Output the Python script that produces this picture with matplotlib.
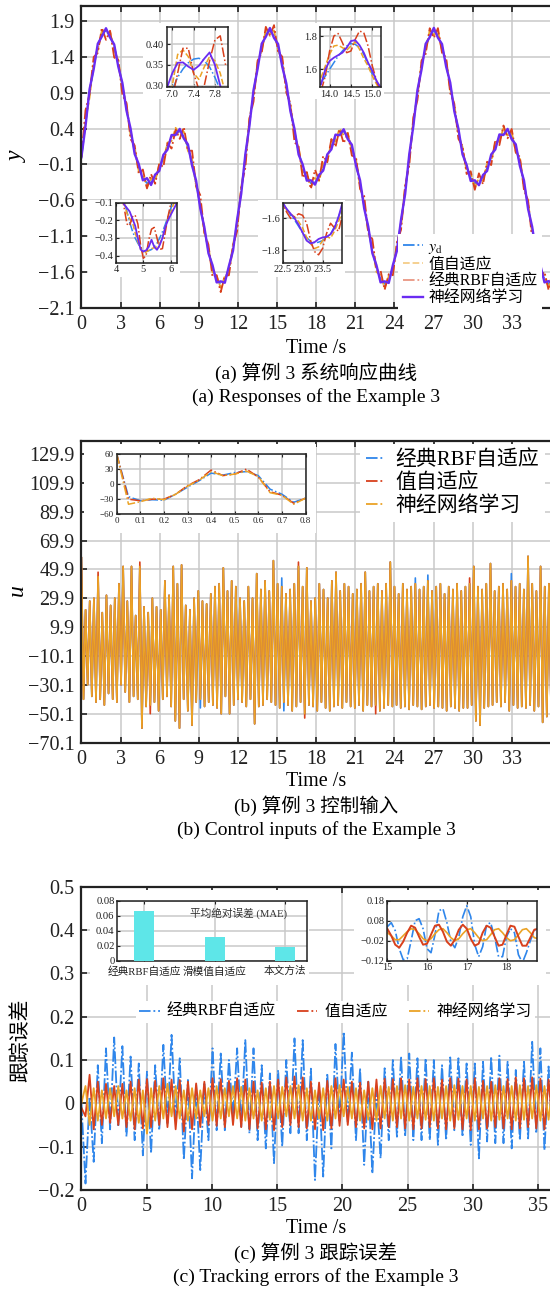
import numpy as np
import matplotlib.pyplot as plt
from matplotlib.patches import Rectangle
from matplotlib.lines import Line2D
from matplotlib.ticker import FuncFormatter

plt.rcParams['font.family'] = ['Liberation Serif', 'Noto Sans CJK SC']
plt.rcParams['mathtext.fontset'] = 'stix'
plt.rcParams['axes.unicode_minus'] = True

W, H = 550, 1290
BLUE = '#2f86eb'
RED = '#d8401c'
ORANGE = '#eba326'
PURPLE = '#6a2cf2'
TEAL = '#5ee6e8'
GRID = '#c9c9c9'
INK = '#222222'

# ---------------- data ----------------
# response / error records, one sample every pi/10 s
step_e = np.pi / 10
yd = [0.00, 0.47, 0.90, 1.26, 1.54, 1.71, 1.76, 1.70, 1.54, 1.30, 1.00, 0.68, 0.36, 0.08, -0.14, -0.29, -0.36, -0.35, -0.28, -0.15,
      0.00, 0.15, 0.28, 0.35, 0.36, 0.29, 0.14, -0.08, -0.36, -0.68, -1.00, -1.30, -1.54, -1.70, -1.76, -1.71, -1.54, -1.26, -0.90, -0.47,
      0.00, 0.47, 0.90, 1.26, 1.54, 1.71, 1.76, 1.70, 1.54, 1.30, 1.00, 0.68, 0.36, 0.08, -0.14, -0.29, -0.36, -0.35, -0.28, -0.15,
      0.00, 0.15, 0.28, 0.35, 0.36, 0.29, 0.14, -0.08, -0.36, -0.68, -1.00, -1.30, -1.54, -1.70, -1.76, -1.71, -1.54, -1.26, -0.90, -0.47,
      0.00, 0.47, 0.90, 1.26, 1.54, 1.71, 1.76, 1.70, 1.54, 1.30, 1.00, 0.68, 0.36, 0.08, -0.14, -0.29, -0.36, -0.35, -0.28, -0.15,
      0.00, 0.15, 0.28, 0.35, 0.36, 0.29, 0.14, -0.08, -0.36, -0.68, -1.00, -1.30, -1.54, -1.70, -1.76, -1.71]

# tracking errors (classic RBF / value adaptive / NN learning)
e_rbf = [0.0, -0.185, 0.015, -0.135, 0.088, -0.092, 0.127, -0.06, 0.152, -0.054, 0.132, -0.077, 0.108, -0.085, 0.092, -0.12,
         0.073, -0.115, 0.088, -0.062, 0.135, -0.046, 0.158, -0.035, 0.104, -0.13, 0.054, -0.173, 0.042, -0.154, 0.045, -0.085,
         0.127, -0.062, 0.115, -0.062, 0.1, -0.031, 0.127, -0.054, 0.146, -0.069, 0.127, -0.085, 0.088, -0.104, 0.069, -0.138,
         0.077, -0.1, 0.1, -0.069, 0.15, -0.069, 0.146, -0.085, 0.08, -0.177, 0.04, -0.169, 0.069, -0.104, 0.137, -0.04,
         0.165, -0.046, 0.117, -0.085, 0.081, -0.142, 0.05, -0.162, 0.03, -0.127, 0.081, -0.085, 0.1, -0.077, 0.108, -0.077,
         0.115, -0.085, 0.104, -0.085, 0.104, -0.085, 0.1, -0.096, 0.088, -0.085, 0.106, -0.062, 0.104, -0.077, 0.092, -0.096,
         0.092, -0.127, 0.096, -0.088, 0.108, -0.092, 0.11, -0.092, 0.096, -0.104, 0.077, -0.085, 0.096, -0.081, 0.142, -0.069,
         0.127, -0.108, 0.085, -0.13]
e_val = [-0.01, -0.03, 0.066, -0.06, 0.05, -0.05, 0.045, -0.045, 0.04, -0.05, 0.045, -0.055, 0.05, -0.06, 0.055, -0.058,
         0.056, -0.055, 0.052, -0.05, 0.058, -0.055, 0.055, -0.06, 0.054, -0.065, 0.05, -0.06, 0.046, -0.055, 0.05, -0.05,
         0.058, -0.052, 0.056, -0.055, 0.052, -0.05, 0.058, -0.055, 0.055, -0.06, 0.05, -0.058, 0.048, -0.06, 0.05, -0.062,
         0.055, -0.055, 0.06, -0.05, 0.062, -0.055, 0.06, -0.058, 0.05, -0.06, 0.048, -0.062, 0.052, -0.058, 0.058, -0.052,
         0.055, -0.05, 0.05, -0.055, 0.048, -0.058, 0.05, -0.06, 0.055, -0.058, 0.057, -0.055, 0.056, -0.055, 0.058, -0.058,
         0.055, -0.06, 0.058, -0.058, 0.056, -0.055, 0.058, -0.058, 0.055, -0.06, 0.058, -0.058, 0.057, -0.06, 0.055, -0.062,
         0.058, -0.06, 0.052, -0.058, 0.05, -0.055, 0.058, -0.058, 0.056, -0.06, 0.06, -0.058, 0.058, -0.055, 0.06, -0.058,
         0.057, -0.06, 0.055, -0.058]
e_nn = [0.0, 0.04, -0.05, 0.035, -0.04, 0.03, -0.035, 0.035, -0.03, 0.04, -0.035, 0.03, -0.04, 0.035, -0.045, 0.03,
        -0.07, 0.035, -0.04, 0.04, -0.035, 0.045, -0.03, 0.04, -0.035, 0.03, -0.04, 0.035, -0.035, 0.03, -0.03, 0.035,
        -0.04, 0.04, -0.035, 0.035, -0.03, 0.04, -0.035, 0.038, -0.04, 0.035, -0.035, 0.03, -0.04, 0.035, -0.038, 0.04,
        -0.035, 0.038, -0.03, 0.04, -0.035, 0.042, -0.04, 0.035, -0.04, 0.03, -0.035, 0.035, -0.04, 0.04, -0.035, 0.042,
        -0.03, 0.038, -0.035, 0.035, -0.04, 0.03, -0.038, 0.035, -0.04, 0.04, -0.035, 0.038, -0.04, 0.04, -0.035, 0.042,
        -0.04, 0.038, -0.035, 0.04, -0.038, 0.04, -0.04, 0.038, -0.035, 0.04, -0.04, 0.042, -0.038, 0.04, -0.035, 0.04,
        -0.04, 0.038, -0.035, 0.04, -0.04, 0.042, -0.038, 0.04, -0.035, 0.04, -0.04, 0.042, -0.038, 0.04, -0.035, 0.042,
        -0.04, 0.04, -0.038, 0.04]

# control input (NN learning), one sample every 0.16 s
step_u = 0.16
u_nn = [58, -40, 22, -30, 28, -38, 30, -42, 45, -40, 20, -44, 32, -36, 25, -40, 30, -42, 40, -30,
        52, -35, 28, -42, 52, -38, 18, -40, 52, -60, 24, -45, 20, -44, 30, -42, 24, -48, 22, -40,
        42, -38, 32, -45, 52, -55, 40, -60, 53, -40, 25, -48, 22, -58, 30, -42, 35, -40, 28, -45,
        26, -42, 33, -44, 38, -46, 40, -50, 51, -38, 35, -50, 42, -44, 38, -40, 30, -42, 28, -45,
        38, -40, 30, -57, 47, -45, 36, -44, 42, -40, 35, -42, 56, -44, 40, -46, 38, -42, 33, -44,
        36, -48, 40, -45, 52, -42, 38, -50, 51, -44, 28, -45, 30, -48, 40, -42, 36, -46, 30, -48,
        42, -45, 48, -44, 35, -46, 40, -42, 38, -45, 33, -46, 36, -44, 40, -48, 48, -44, 35, -45,
        38, -44, 40, -48, 35, -46, 40, -44, 55, -45, 38, -44, 33, -46, 40, -45, 36, -47, 38, -44,
        40, -45, 36, -47, 38, -45, 42, -44, 35, -46, 38, -45, 40, -46, 33, -48, 38, -45, 36, -46,
        40, -48, 35, -46, 38, -46, 40, -44, 52, -55, 38, -58, 36, -46, 40, -45, 54, -44, 35, -42,
        38, -45, 40, -42, 36, -48, 42, -44, 38, -46, 40, -45, 36, -46, 59, -44, 40, -48, 35, -45,
        52, -56, 38, -52, 40, -45]
# samples where the other two controllers leave the NN input
u_rbf_dev = {57: -46, 96: 44, 97: -48, 160: 44, 166: 46, 206: 47}
u_val_dev = {8: 48, 28: 55, 33: -50, 104: 55, 107: -53, 141: -50, 186: 44}

# zoomed control input, 0 .. 0.8 s
t_ub = np.linspace(0, 0.8, 17)
ub_rbf = [60, -25, -33, -31, -32, -20, -6, 7, 22, 18, 23, 25, 17, -10, -20, -36, -28]
ub_val = [60, -30, -33, -30, -30, -20, -3, 9, 28, 17, 20, 30, 14, -15, -22, -38, -28]
ub_nn = [60, -40, -35, -28, -31, -20, -4, 8, 25, 17, 20, 26, 15, -17, -22, -40, -28]

# zoomed responses (y_d, value adaptive, classic RBF, NN learning)
t_z1 = np.linspace(6.9, 8.0, 12)
z1_yd = [0.26, 0.29, 0.32, 0.34, 0.355, 0.364, 0.366, 0.36, 0.345, 0.32, 0.29, 0.25]
z1_val = [0.27, 0.30, 0.375, 0.386, 0.37, 0.33, 0.315, 0.345, 0.37, 0.36, 0.33, 0.28]
z1_rbf = [0.28, 0.27, 0.33, 0.39, 0.39, 0.33, 0.29, 0.30, 0.36, 0.41, 0.42, 0.35]
z1_nn = [0.295, 0.33, 0.355, 0.356, 0.346, 0.338, 0.348, 0.365, 0.38, 0.35, 0.30, 0.26]

t_z2 = np.linspace(13.8, 15.2, 15)
z2_yd = [1.52, 1.56, 1.60, 1.64, 1.68, 1.71, 1.74, 1.755, 1.75, 1.73, 1.69, 1.63, 1.57, 1.52, 1.48]
z2_val = [1.55, 1.62, 1.69, 1.74, 1.745, 1.73, 1.715, 1.74, 1.765, 1.72, 1.665, 1.62, 1.56, 1.51, 1.47]
z2_rbf = [1.47, 1.56, 1.71, 1.80, 1.815, 1.76, 1.70, 1.71, 1.78, 1.83, 1.82, 1.74, 1.62, 1.53, 1.46]
z2_nn = [1.51, 1.60, 1.65, 1.67, 1.685, 1.70, 1.73, 1.77, 1.775, 1.745, 1.70, 1.64, 1.59, 1.53, 1.49]

t_z3 = np.linspace(4.0, 6.3, 24)
z3_yd = [0.15, 0.07, -0.03, -0.09, -0.15, -0.21, -0.26, -0.30, -0.33, -0.355, -0.37, -0.375,
         -0.372, -0.365, -0.35, -0.33, -0.30, -0.265, -0.225, -0.18, -0.135, -0.09, -0.04, 0.01]
z3_val = [0.13, 0.05, -0.04, -0.10, -0.16, -0.19, -0.21, -0.27, -0.32, -0.36, -0.385, -0.38,
          -0.37, -0.36, -0.355, -0.35, -0.33, -0.30, -0.24, -0.19, -0.16, -0.11, -0.08, -0.05]
z3_rbf = [0.12, 0.03, -0.05, -0.13, -0.22, -0.23, -0.18, -0.17, -0.22, -0.34, -0.415, -0.40,
          -0.31, -0.25, -0.24, -0.30, -0.365, -0.36, -0.27, -0.18, -0.11, -0.06, -0.02, 0.02]
z3_nn = [0.1, 0.02, -0.06, -0.11, -0.13, -0.15, -0.19, -0.23, -0.30, -0.365, -0.377, -0.37,
         -0.35, -0.31, -0.35, -0.367, -0.34, -0.30, -0.24, -0.2, -0.17, -0.14, -0.11, -0.08]

t_z4 = np.linspace(22.4, 24.0, 17)
z4_yd = [-1.44, -1.50, -1.54, -1.58, -1.61, -1.65, -1.69, -1.72, -1.745, -1.755, -1.75, -1.74, -1.72, -1.70, -1.65, -1.59, -1.52]
z4_val = [-1.45, -1.50, -1.55, -1.57, -1.59, -1.62, -1.66, -1.72, -1.76, -1.79, -1.78, -1.74, -1.715, -1.725, -1.68, -1.62, -1.55]
z4_rbf = [-1.46, -1.51, -1.56, -1.60, -1.59, -1.57, -1.58, -1.63, -1.74, -1.81, -1.83, -1.79, -1.695, -1.63, -1.66, -1.68, -1.58]
z4_nn = [-1.45, -1.50, -1.54, -1.57, -1.60, -1.64, -1.69, -1.74, -1.758, -1.75, -1.73, -1.72, -1.716, -1.70, -1.66, -1.59, -1.50]

# zoomed tracking errors, 15 .. 18.8 s
t_zc = np.linspace(15.0, 18.8, 39)
zc_rbf = [0.05, 0.07, 0.03, -0.06, -0.115, -0.11, -0.02, 0.08, 0.09, 0.04, -0.06, -0.08, 0.01, 0.13, 0.14, 0.07,
          -0.025, -0.055, 0.0, 0.1, 0.155, 0.1, -0.04, -0.1, -0.05, 0.06, 0.07, 0.0, -0.1, -0.1, 0.0, 0.04,
          0.02, -0.09, -0.13, -0.08, -0.02, 0.03, 0.05]
zc_val = [0.04, 0.005, -0.04, -0.055, -0.025, 0.02, 0.055, 0.045, 0.0, -0.04, -0.035, 0.01, 0.055, 0.06, 0.025, -0.025,
          -0.045, -0.015, 0.035, 0.06, 0.04, -0.01, -0.045, -0.035, 0.02, 0.055, 0.045, 0.0, -0.045, -0.04, 0.01, 0.055,
          0.05, 0.0, -0.045, -0.045, -0.005, 0.035, 0.04]
zc_nn = [0.02, 0.005, -0.015, -0.015, 0.005, 0.025, 0.04, 0.035, 0.015, -0.01, -0.02, -0.01, 0.015, 0.035, 0.04, 0.02,
         -0.005, -0.02, -0.01, 0.015, 0.035, 0.04, 0.02, -0.005, -0.02, -0.015, 0.01, 0.035, 0.04, 0.02, -0.005, -0.02,
         -0.015, 0.01, 0.035, 0.04, 0.02, -0.005, -0.01]

# mean absolute error per method
mae_methods = ['经典RBF自适应', '滑模值自适应', '本文方法']
mae_values = [0.0666, 0.0322, 0.0188]

# ---------------- derived records ----------------
t_e = np.arange(len(yd)) * step_e
yd_arr = np.array(yd)
y_rbf = yd_arr - np.array(e_rbf)
y_val = yd_arr - np.array(e_val)
y_nn = yd_arr - np.array(e_nn)

t_u = np.arange(len(u_nn)) * step_u
u_rbf = list(u_nn)
for i, v in u_rbf_dev.items():
    u_rbf[i] = v
u_val = list(u_nn)
for i, v in u_val_dev.items():
    u_val[i] = v

LONG_DASHDOT = (0, (7, 1.3, 1, 1.3))


# ---------------- helpers ----------------
def box(x0, y0, x1, y1):
    """pixel box (top-left origin) -> figure fraction rect"""
    return [x0 / W, 1 - y1 / H, (x1 - x0) / W, (y1 - y0) / H]


def blank(ax, x0, y0, x1, y1):
    ax.add_patch(Rectangle((x0 / W, 1 - y1 / H), (x1 - x0) / W, (y1 - y0) / H,
                           transform=fig.transFigure, facecolor='white',
                           edgecolor='none', zorder=4))


def style(ax, size, length, width, lw_spine, pad):
    ax.tick_params(direction='in', top=True, right=False, labelsize=size,
                   length=length, width=width, pad=pad, colors=INK)
    ax.grid(True, color=GRID, lw=1.1)
    ax.set_axisbelow(True)
    for s in ax.spines.values():
        s.set_linewidth(lw_spine)
        s.set_color(INK)


def fmt(spec):
    return FuncFormatter(lambda v, p: spec.format(v).replace('-', '\u2212'))


def short(v, p):
    return ('%g' % round(v, 2)).replace('-', '\u2212')


def inset(rect, xlim, ylim, xt, yt, xspec, yspec, size=7.5):
    ax = fig.add_axes(rect)
    ax.set_facecolor('white')
    style(ax, size, 2.5, 0.8, 1.1, 2)
    ax.set_xlim(*xlim)
    ax.set_ylim(*ylim)
    ax.set_xticks(xt)
    ax.set_yticks(yt)
    ax.xaxis.set_major_formatter(fmt(xspec))
    ax.yaxis.set_major_formatter(fmt(yspec))
    return ax


def dashdot(color):
    return Line2D([], [], color=color, ls='-.', lw=1.3)


fig = plt.figure(figsize=(W / 100, H / 100), dpi=100)

# ================= (a) responses =================
ax_a = fig.add_axes(box(81.4, 6, 551, 308.3))
style(ax_a, 14.5, 4, 1.2, 1.6, 5)
ax_a.plot(t_e, yd_arr, color=BLUE, ls='-.', lw=1.3, label=r'$y_\mathrm{d}$')
ax_a.plot(t_e, y_val, color=ORANGE, ls='--', lw=1.3, label='值自适应')
ax_a.plot(t_e, y_rbf, color=RED, ls='-.', lw=1.3, label='经典RBF自适应')
ax_a.plot(t_e, y_nn, color=PURPLE, lw=1.7, label='神经网络学习')
ax_a.set_xlim(0, 36)
ax_a.set_ylim(-2.1, 2.104)
ax_a.set_xticks(np.arange(0, 34, 3))
ax_a.set_yticks(np.arange(-2.1, 2.0, 0.5))
ax_a.yaxis.set_major_formatter(fmt('{:.1f}'))
for bx in [(143, 23, 231, 99), (300, 23, 384, 99), (88, 200, 180, 277), (258, 200, 345, 277)]:
    blank(ax_a, *bx)
leg = ax_a.legend(loc='upper left', bbox_to_anchor=(398 / W, 1 - 234 / H),
                  bbox_transform=fig.transFigure, fontsize=11.4, borderaxespad=0,
                  borderpad=0.3, handlelength=1.3, handletextpad=0.3, labelspacing=0.05,
                  fancybox=False, framealpha=1, edgecolor='none')
for ln in leg.get_lines()[1:3]:
    ln.set_alpha(0.55)

panels = [
    (inset(box(166.7, 26.7, 227.7, 87.3), (6.895, 8.04), (0.296, 0.442),
           [7.0, 7.4, 7.8], [0.30, 0.35, 0.40], '{:.1f}', '{:.2f}'),
     t_z1, z1_yd, z1_val, z1_rbf, z1_nn),
    (inset(box(320.2, 26.7, 381.3, 87.3), (13.78, 15.21), (1.492, 1.856),
           [14.0, 14.5, 15.0], [1.6, 1.8], '{:.1f}', '{:.1f}'),
     t_z2, z2_yd, z2_val, z2_rbf, z2_nn),
    (inset(box(116, 202.7, 177.2, 262.7), (4.0, 6.24), (-0.44, -0.1),
           [4, 5, 6], [-0.4, -0.3, -0.2, -0.1], '{:.0f}', '{:.1f}'),
     t_z3, z3_yd, z3_val, z3_rbf, z3_nn),
    (inset(box(282.7, 202.7, 341.7, 262.7), (22.5, 23.98), (-1.88, -1.50),
           [22.5, 23.0, 23.5], [-1.8, -1.6], '{:.1f}', '{:.1f}'),
     t_z4, z4_yd, z4_val, z4_rbf, z4_nn),
]
for ax, tz, zyd, zval, zrbf, znn in panels:
    ax.plot(tz, zyd, color=BLUE, ls='-.', lw=1.1)
    ax.plot(tz, zval, color=ORANGE, ls='--', lw=1.1)
    ax.plot(tz, zrbf, color=RED, ls='-.', lw=1.1)
    ax.plot(tz, znn, color=PURPLE, lw=1.3)

# ================= (b) control inputs =================
ax_b = fig.add_axes(box(81.4, 440.7, 551, 742.7))
style(ax_b, 14.5, 4, 1.2, 1.6, 5)
ax_b.plot(t_u, u_rbf, color=BLUE, lw=1.2)
ax_b.plot(t_u, u_val, color=RED, lw=1.2)
ax_b.plot(t_u, u_nn, color=ORANGE, lw=1.2)
ax_b.set_xlim(0, 36)
ax_b.set_ylim(-70.1, 139.1)
ax_b.set_xticks(np.arange(0, 34, 3))
ax_b.set_yticks(np.arange(-70.1, 130, 20))
ax_b.yaxis.set_major_formatter(fmt('{:.1f}'))
blank(ax_b, 84, 444, 316, 533)
ax_b.legend([dashdot(BLUE), dashdot(RED), dashdot(ORANGE)],
            ['经典RBF自适应', '值自适应', '神经网络学习'],
            loc='upper left', bbox_to_anchor=(360 / W, 1 - 444 / H),
            bbox_transform=fig.transFigure, fontsize=15, borderaxespad=0,
            borderpad=0.3, handlelength=0.9, handletextpad=0.5, labelspacing=0.15,
            fancybox=False, framealpha=1, edgecolor='none')

ax_ib = inset(box(116.7, 454, 305.5, 514.3), (0, 0.8), (-60, 60),
              np.arange(0, 0.81, 0.1), [-60, -30, 0, 30, 60], '{:.1f}', '{:g}', size=6.5)
ax_ib.xaxis.set_major_formatter(FuncFormatter(short))
ax_ib.plot(t_ub, ub_rbf, color=BLUE, ls='-.', lw=1.1)
ax_ib.plot(t_ub, ub_val, color=RED, ls='-.', lw=1.1)
ax_ib.plot(t_ub, ub_nn, color=ORANGE, ls='-.', lw=1.1)

# ================= (c) tracking errors =================
ax_c = fig.add_axes(box(81.4, 886.7, 551, 1190))
style(ax_c, 14.5, 4, 1.2, 1.6, 5)
ax_c.plot(t_e, e_rbf, color=BLUE, ls=LONG_DASHDOT, lw=1.3)
ax_c.plot(t_e, e_val, color=RED, lw=1.3)
ax_c.plot(t_e, e_nn, color=ORANGE, lw=1.3)
ax_c.set_xlim(0, 36)
ax_c.set_ylim(-0.2, 0.5)
ax_c.set_xticks(np.arange(0, 36, 5))
ax_c.set_yticks(np.arange(-0.2, 0.51, 0.1))
ax_c.yaxis.set_major_formatter(FuncFormatter(short))
blank(ax_c, 90, 890, 309, 985)
blank(ax_c, 354, 890, 546, 985)
ax_c.legend([dashdot(BLUE), dashdot(RED), dashdot(ORANGE)],
            ['经典RBF自适应', '值自适应', '神经网络学习'],
            loc='upper left', bbox_to_anchor=(136 / W, 1 - 1001 / H),
            bbox_transform=fig.transFigure, ncol=3, fontsize=11.4, borderaxespad=0,
            borderpad=0.2, handlelength=1.3, handletextpad=0.45, columnspacing=1.3,
            fancybox=False, framealpha=1, edgecolor='none')

ax_bar = fig.add_axes(box(117.3, 901, 307.3, 960.7))
ax_bar.set_facecolor('white')
style(ax_bar, 7.7, 2.5, 0.8, 1.1, 2)
ax_bar.bar(range(len(mae_values)), mae_values, width=0.285, color=TEAL, zorder=3)
ax_bar.set_xlim(-0.384, 2.317)
ax_bar.set_ylim(0, 0.08)
ax_bar.set_xticks(range(len(mae_methods)))
ax_bar.set_xticklabels(mae_methods)
ax_bar.tick_params(axis='x', pad=4)
ax_bar.set_yticks([0, 0.02, 0.04, 0.06, 0.08])
ax_bar.yaxis.set_major_formatter(FuncFormatter(short))
ax_bar.text(0.64, 0.80, '平均绝对误差 (MAE)', transform=ax_bar.transAxes,
            ha='center', va='center', fontsize=7.7, color='#333333')

ax_ic = inset(box(387.3, 900.7, 536.7, 960.7), (15, 18.76), (-0.12, 0.18),
              [15, 16, 17, 18], [-0.12, -0.02, 0.08, 0.18], '{:.0f}', '{:.2f}')
ax_ic.plot(t_zc, zc_rbf, color=BLUE, ls='-.', lw=1.2)
ax_ic.plot(t_zc, zc_nn, color=ORANGE, lw=1.2)
ax_ic.plot(t_zc, zc_val, color=RED, lw=1.4)

# ================= labels / captions =================
fig.text(17.5 / W, 1 - 157 / H, 'y', style='italic', rotation=90, fontsize=17,
         ha='center', va='center')
fig.text(17.5 / W, 1 - 590 / H, 'u', style='italic', rotation=90, fontsize=17,
         ha='center', va='center')
fig.text(21 / W, 1 - 1040 / H, '跟踪误差', rotation=90, fontsize=15,
         ha='center', va='center')

for y0, lines in [(348, ['Time /s', '(a) 算例 3 系统响应曲线', '(a) Responses of the Example 3']),
                  (781.7, ['Time /s', '(b) 算例 3 控制输入', '(b) Control inputs of the Example 3']),
                  (1228.3, ['Time /s', '(c) 算例 3 跟踪误差', '(c) Tracking errors of the Example 3'])]:
    for i, s in enumerate(lines):
        fig.text(316 / W, 1 - (y0 + 24.3 * i) / H, s, ha='center', va='center',
                 fontsize=14.5 if i == 0 else 14)

fig.savefig('out.png', dpi=100)
